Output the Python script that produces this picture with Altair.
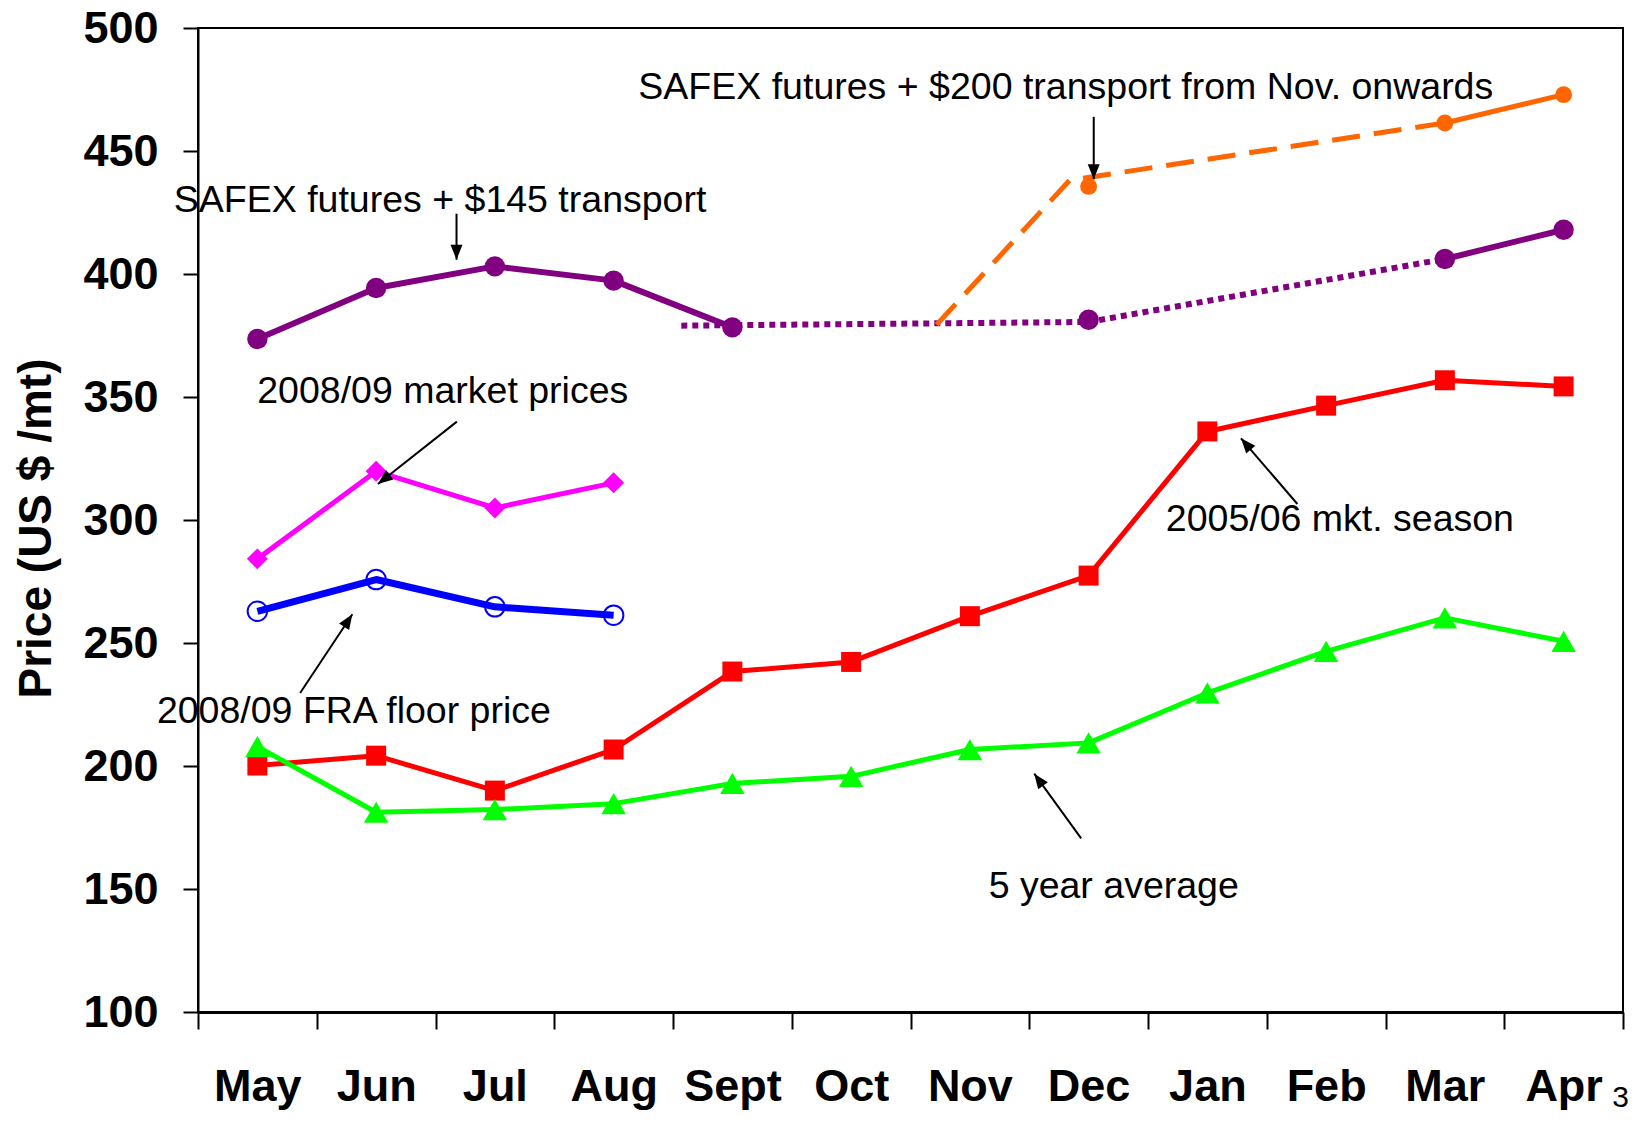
import math
import altair as alt
import pandas as pd

# ---------------- data ----------------
months = ["May", "Jun", "Jul", "Aug", "Sept", "Oct", "Nov", "Dec", "Jan", "Feb", "Mar", "Apr"]
month_pos = [i + 0.5 for i in range(12)]          # centre of each month slot

red_2005 = [200.2, 204.2, 190.0, 206.7, 238.4, 242.3, 260.9, 277.4, 336.0, 346.5, 356.8, 354.3]
green_avg = [207.9, 181.2, 182.3, 184.7, 192.9, 195.8, 206.7, 209.4, 229.7, 246.6, 260.2, 250.7]

mkt_months = ["May", "Jun", "Jul", "Aug"]
magenta_mkt = [284.2, 319.8, 304.9, 315.1]
blue_fra = [262.9, 275.8, 264.7, 261.3]

purple_months = ["May", "Jun", "Jul", "Aug", "Sept", "Dec", "Mar", "Apr"]
purple_vals = [373.6, 394.3, 403.1, 397.3, 378.3, 381.4, 406.1, 418.0]
purple_solid_seg = ["a", "a", "a", "a", "a", None, "b", "b"]
purple_dot_x = [4.07, 7.5, 10.5]
purple_dot_y = [379.0, 380.5, 406.1]

orange_months = ["Dec", "Mar", "Apr"]
orange_vals = [435.6, 461.4, 472.9]
orange_dash_x = [6.22, 7.34, 10.5]
orange_dash_y = [379.4, 438.1, 461.4]

ann_labels = [
    "SAFEX futures + $145 transport",
    "SAFEX futures + $200 transport from Nov. onwards",
    "2008/09 market prices",
    "2008/09 FRA floor price",
    "2005/06 mkt. season",
    "5 year average",
]
ann_x = [-0.204, 3.708, 0.499, -0.346, 8.15, 6.658]
ann_y = [425.3, 471.1, 347.6, 217.5, 295.4, 146.4]

arrow_x1 = [2.177, 7.543, 2.180, 0.860, 9.258, 7.437]
arrow_y1 = [424.5, 463.9, 340.0, 229.7, 306.5, 170.6]
arrow_x2 = [2.177, 7.543, 1.515, 1.300, 8.783, 7.042]
arrow_y2 = [405.8, 438.5, 314.6, 261.7, 333.2, 196.9]

page_label = ["3"]
page_x = [11.98]
page_y = [61.2]

# ---------------- layout ----------------
W, H = 1425, 984
PX_X = W / 12.0
PX_Y = H / 400.0
FONT = "Liberation Sans"

PURPLE = "#800080"
ORANGE = "#FF6600"
MAGENTA = "#FF00FF"
BLUE = "#0000FF"
RED = "#FF0000"
GREEN = "#00FF00"

idx = {m: i for i, m in enumerate(months)}

label_expr = "[" + ",".join("'%s'" % m for m in months) + ",''][datum.value]"

XS = alt.Scale(domain=[0, 12], nice=False, zero=False)
YS = alt.Scale(domain=[100, 500], nice=False, zero=False)

X = alt.X(
    "x:Q",
    scale=XS,
    axis=alt.Axis(
        values=list(range(13)),
        labelExpr=label_expr,
        labelOffset=PX_X / 2,
        labelFlush=False,
        labelOverlap=False,
        labelBound=False,
        labelFont=FONT,
        labelFontSize=45,
        labelFontWeight="bold",
        labelColor="black",
        labelBaseline="alphabetic",
        labelPadding=71,
        tickSize=17,
        tickColor="black",
        tickWidth=2,
        domainColor="black",
        domainWidth=3,
        grid=False,
        title=None,
    ),
)
Y = alt.Y(
    "y:Q",
    scale=YS,
    axis=alt.Axis(
        values=list(range(100, 501, 50)),
        labelFont=FONT,
        labelFontSize=45,
        labelFontWeight="bold",
        labelColor="black",
        labelPadding=25,
        tickSize=15,
        tickColor="black",
        tickWidth=2,
        domainColor="black",
        domainWidth=2,
        grid=False,
        title="Price (US $ /mt)",
        titleFont=FONT,
        titleFontSize=46,
        titleFontWeight="bold",
        titleColor="black",
        titleAngle=270,
        titleAlign="center",
        titleBaseline="middle",
        titleX=-162,
        titleY=500,
    ),
)

# ---------------- frames ----------------
red_df = pd.DataFrame({"x": month_pos, "y": red_2005})
green_df = pd.DataFrame({"x": month_pos, "y": green_avg})
mag_df = pd.DataFrame({"x": [month_pos[idx[m]] for m in mkt_months], "y": magenta_mkt})
blue_df = pd.DataFrame({"x": [month_pos[idx[m]] for m in mkt_months], "y": blue_fra})

purple_pts = pd.DataFrame({"x": [month_pos[idx[m]] for m in purple_months], "y": purple_vals,
                           "seg": purple_solid_seg})
purple_solid = purple_pts.dropna(subset=["seg"])
purple_dot = pd.DataFrame({"x": purple_dot_x, "y": purple_dot_y})

orange_pts = pd.DataFrame({"x": [month_pos[idx[m]] for m in orange_months], "y": orange_vals})
orange_solid = orange_pts.iloc[1:]
orange_dash = pd.DataFrame({"x": orange_dash_x, "y": orange_dash_y})

ann_df = pd.DataFrame({"x": ann_x, "y": ann_y, "label": ann_labels})

angles = []
for a, b, c, d in zip(arrow_x1, arrow_y1, arrow_x2, arrow_y2):
    dxp = (c - a) * PX_X
    dyp = -(d - b) * PX_Y
    angles.append(math.degrees(math.atan2(dxp, -dyp)) % 360)
arrow_df = pd.DataFrame({"x": arrow_x1, "y": arrow_y1, "x2": arrow_x2, "y2": arrow_y2,
                         "angle": angles})

page_df = pd.DataFrame({"x": page_x, "y": page_y, "label": page_label})


def line(df, color, width, dash=None, detail=None):
    kw = dict(color=color, strokeWidth=width, strokeCap="butt", strokeJoin="round")
    if dash:
        kw["strokeDash"] = dash
    enc = dict(x=X, y=Y)
    if detail:
        enc["detail"] = detail
    return alt.Chart(df).mark_line(**kw).encode(**enc)


def pts(df, shape, color, size, filled=True, stroke_width=0):
    return alt.Chart(df).mark_point(
        shape=shape, filled=filled, color=color, size=size, opacity=1,
        strokeWidth=stroke_width,
    ).encode(x=X, y=Y)


layers = [
    line(purple_solid, PURPLE, 6, detail="seg:N"),
    line(purple_dot, PURPLE, 6, dash=[6, 5]),
    line(orange_dash, ORANGE, 5, dash=[28, 14]),
    line(orange_solid, ORANGE, 5),
    line(mag_df, MAGENTA, 5),
    line(blue_df, BLUE, 7),
    line(red_df, RED, 5),
    line(green_df, GREEN, 5),
    pts(purple_pts, "circle", PURPLE, 415),
    pts(orange_pts, "circle", ORANGE, 285),
    pts(mag_df, "diamond", MAGENTA, 440),
    pts(blue_df, "circle", BLUE, 380, filled=False, stroke_width=2),
    pts(red_df, "square", RED, 400),
    pts(green_df, "triangle-up", GREEN, 600),
    alt.Chart(arrow_df).mark_rule(color="black", strokeWidth=2).encode(
        x=X, y=Y, x2="x2:Q", y2="y2:Q"
    ),
    alt.Chart(arrow_df).mark_point(
        shape="M0,0 L-0.4,1 L0.4,1 Z", filled=True, color="black", size=900,
        opacity=1, strokeWidth=0,
    ).encode(x=alt.X("x2:Q", scale=XS),
             y=alt.Y("y2:Q", scale=YS),
             angle=alt.Angle("angle:Q", scale=None)),
    alt.Chart(ann_df).mark_text(
        align="left", baseline="alphabetic", font=FONT, fontSize=37.5, color="black"
    ).encode(x=X, y=Y, text="label:N"),
    alt.Chart(page_df).mark_text(
        align="center", baseline="alphabetic", font=FONT, fontSize=30, color="black"
    ).encode(x=X, y=Y, text="label:N"),
]

chart = alt.layer(*layers).properties(
    width=W,
    height=H,
    autosize=alt.AutoSizeParams(type="none"),
    padding={"left": 190, "top": 20, "right": 7, "bottom": 100},
    background="white",
).configure_view(stroke="black", strokeWidth=2)

chart.save("out.html", embed_options={"renderer": "svg", "actions": False})
